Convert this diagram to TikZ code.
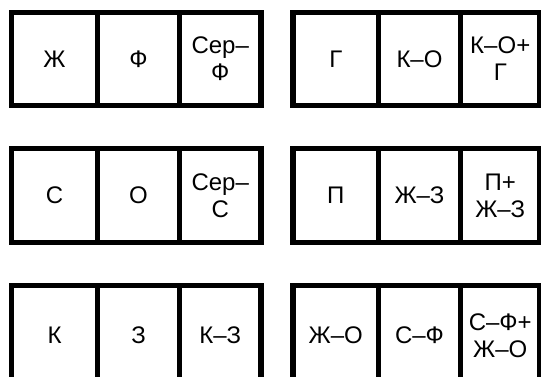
\documentclass[tikz,border=0pt]{standalone}
\usepackage{fontspec}
\setmainfont{Liberation Sans}
\begin{document}
\begin{tikzpicture}[x=1pt,y=1pt,
  cell/.style={draw=black, line width=5.5pt, fill=white, rectangle, inner sep=0pt,
    align=center, font=\fontsize{24}{27}\selectfont},
  wa/.style={minimum width=86pt}, wb/.style={minimum width=82pt}, wc/.style={minimum width=81.5pt},
  wd/.style={minimum width=85.5pt}, we/.style={minimum width=82pt}, wf/.style={minimum width=79.5pt},
  ra/.style={minimum height=93pt}, rb/.style={minimum height=94pt}, rc/.style={minimum height=100pt}]
\useasboundingbox (0,0) rectangle (541,377);
% row 1
\node[cell,wa,ra] (a1) at (54.5,318) {Ж};
\node[cell,wb,ra] (a2) at (138.5,318) {Ф};
\node[cell,wc,ra] (a3) at (220.25,318) {Сер–\\Ф};
\node[cell,wd,ra] (b1) at (335.75,318) {Г};
\node[cell,we,ra] (b2) at (419.5,318) {К–О};
\node[cell,wf,ra] (b3) at (500.25,318) {К–О+\\Г};
% row 2
\node[cell,wa,rb] (c1) at (54.5,181.5) {С};
\node[cell,wb,rb] (c2) at (138.5,181.5) {О};
\node[cell,wc,rb] (c3) at (220.25,181.5) {Сер–\\С};
\node[cell,wd,rb] (d1) at (335.75,181.5) {П};
\node[cell,we,rb] (d2) at (419.5,181.5) {Ж–З};
\node[cell,wf,rb] (d3) at (500.25,181.5) {П+\\Ж–З};
% row 3
\node[cell,wa,rc] (e1) at (54.5,41.5) {К};
\node[cell,wb,rc] (e2) at (138.5,41.5) {З};
\node[cell,wc,rc] (e3) at (220.25,41.5) {К–З};
\node[cell,wd,rc] (f1) at (335.75,41.5) {Ж–О};
\node[cell,we,rc] (f2) at (419.5,41.5) {С–Ф};
\node[cell,wf,rc] (f3) at (500.25,41.5) {С–Ф+\\Ж–О};
\end{tikzpicture}
\end{document}
